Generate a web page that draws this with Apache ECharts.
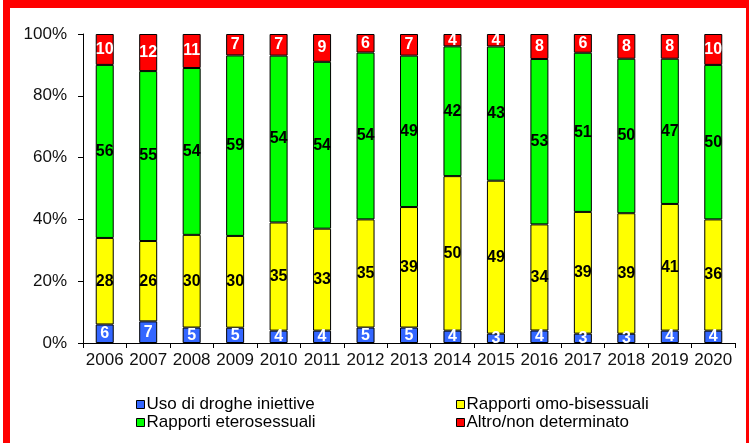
<!DOCTYPE html>
<html>
<head>
<meta charset="utf-8">
<script src="https://cdn.jsdelivr.net/npm/echarts@6/dist/echarts.min.js"></script>
<style>
  html, body { margin: 0; padding: 0; background: #fff; }
  #chart { width: 749px; height: 443px; }
</style>
</head>
<body>
<div id="chart"></div>
<script>
// anni
const years = ['2006', '2007', '2008', '2009', '2010', '2011', '2012', '2013', '2014', '2015', '2016', '2017', '2018', '2019', '2020'];
// percentuali per modalità di trasmissione
const droghe = [6, 7, 5, 5, 4, 4, 5, 5, 4, 3, 4, 3, 3, 4, 4];
const omoBisex = [28, 26, 30, 30, 35, 33, 35, 39, 50, 49, 34, 39, 39, 41, 36];
const etero = [56, 55, 54, 59, 54, 54, 54, 49, 42, 43, 53, 51, 50, 47, 50];
const altro = [10, 12, 11, 7, 7, 9, 6, 7, 4, 4, 8, 6, 8, 8, 10];
const yTicks = [0, 20, 40, 60, 80, 100];

const names = ['Uso di droghe iniettive', 'Rapporti omo-bisessuali', 'Rapporti eterosessuali', 'Altro/non determinato'];
const colors = ['#3366FF', '#FFFF00', '#00FF00', '#FF0000'];
const labelColors = ['#fff', '#000', '#000', '#fff'];
const raw = [droghe, omoBisex, etero, altro];

// totale per anno (barre al 100%)
const totals = years.map((y, i) => droghe[i] + omoBisex[i] + etero[i] + altro[i]);

const chart = echarts.init(document.getElementById('chart'));

let series = raw.map((arr, k) => ({
    name: names[k],
    type: 'bar',
    stack: 'tot',
    barWidth: 18,
    data: arr.map((v, i) => v / totals[i] * 100),
    itemStyle: {color: colors[k], borderColor: '#000', borderWidth: 1},
    label: {
        show: true,
        position: 'inside',
        color: labelColors[k],
        fontWeight: 'bold',
        fontSize: 16,
        fontFamily: 'Liberation Sans, Arial, sans-serif',
        formatter: p => arr[p.dataIndex]
    }
}))

let legendBase = {
    orient: 'vertical',
    top: 391,
    itemGap: 1,
    icon: 'rect',
    itemWidth: 8,
    itemHeight: 8,
    itemStyle: {borderColor: '#000', borderWidth: 1},
    textStyle: {fontSize: 17, color: '#000', padding: [0, 0, 0, -3]}
}

let option = {
    animation: false,
    backgroundColor: '#fff',
    textStyle: {fontFamily: 'Liberation Sans, Arial, sans-serif'},
    grid: {left: 83, right: 14, top: 34, bottom: 100},
    xAxis: {
        type: 'category',
        data: years,
        axisLine: {lineStyle: {color: '#000', width: 1}},
        axisTick: {show: true, length: 5, lineStyle: {color: '#000'}},
        axisLabel: {color: '#111', fontSize: 17, margin: 9, interval: 0}
    },
    yAxis: {
        type: 'value',
        min: yTicks[0],
        max: yTicks[yTicks.length - 1],
        interval: 20,
        splitLine: {show: false},
        axisLine: {show: true, lineStyle: {color: '#000', width: 1}},
        axisTick: {show: true, length: 5, lineStyle: {color: '#000'}},
        axisLabel: {color: '#111', fontSize: 17, margin: 16, formatter: '{value}%'}
    },
    legend: [
        Object.assign({data: [names[0], names[2]], left: 131}, legendBase),
        Object.assign({data: [names[1], names[3]], left: 451}, legendBase)
    ],
    graphic: [
        // cornice rossa
        {type: 'rect', shape: {x: 3, y: 0, width: 746, height: 8}, style: {fill: '#FF0000'}, silent: true},
        {type: 'rect', shape: {x: 3, y: 0, width: 7, height: 443}, style: {fill: '#FF0000'}, silent: true},
        {type: 'rect', shape: {x: 746, y: 0, width: 3, height: 443}, style: {fill: '#FF0000'}, silent: true}
    ],
    series: series
};

option && chart.setOption(option);
</script>
</body>
</html>
